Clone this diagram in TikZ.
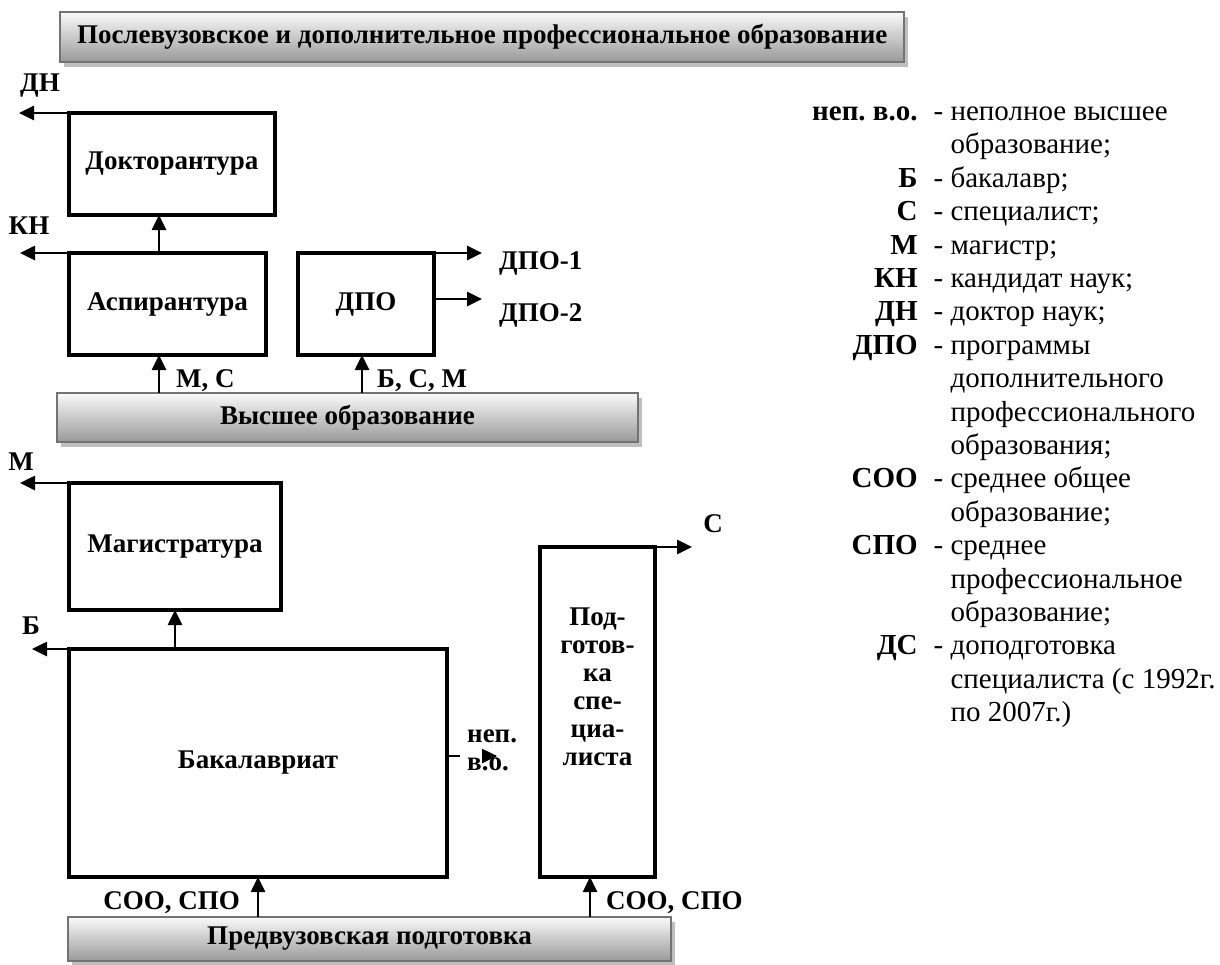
\documentclass[tikz,border=0pt]{standalone}
\usepackage{fontspec}
\setmainfont{Liberation Serif}
\usetikzlibrary{arrows.meta,shadows}
\frenchspacing

\newcommand{\lblfont}{\fontsize{27}{28}\selectfont\bfseries}
\newcommand{\legfont}{\fontsize{29}{33.4}\selectfont}
\newcommand{\legcont}{\hphantom{- }}

\begin{document}
\begin{tikzpicture}[x=1pt, y=-1pt, >={Triangle[length=15pt,width=14pt]}]

    % --- STYLES ---
    \tikzstyle{block} = [draw=black, line width=3.5pt, outer sep=0pt, align=center, font=\lblfont, inner sep=0pt]
    \tikzstyle{banner} = [draw=black!55, line width=2pt, outer sep=0pt, top color=black!2, bottom color=black!40, font=\lblfont, inner sep=0pt, drop shadow={shadow xshift=4pt, shadow yshift=-5pt, fill=black!25, opacity=1}]
    \tikzstyle{conn} = [line width=2.6pt, ->]
    \tikzstyle{tag} = [font=\lblfont, inner sep=0pt, align=left]

    % --- CANVAS ---
    \useasboundingbox (0,0) rectangle (1220,964);

    % --- POSTGRADUATE LEVEL ---
    \node[banner, anchor=north west, minimum height=50, inner xsep=17pt] (post) at (60,12) {Послевузовское и дополнительное профессиональное образование};
    \node[block, anchor=north west, minimum width=206, minimum height=102] (dokt) at (69,113) {Докторантура};
    \node[block, anchor=north west, minimum width=197, minimum height=102] (asp) at (69,253) {Аспирантура};
    \node[block, anchor=north west, minimum width=136, minimum height=102] (dpo) at (298,253) {ДПО};

    % --- HIGHER EDUCATION ---
    \node[banner, anchor=north west, minimum width=581, minimum height=49] (vo) at (57,393) {Высшее образование};
    \node[block, anchor=north west, minimum width=212, minimum height=127] (mag) at (69,483) {Магистратура};
    \node[block, anchor=north west, minimum width=378, minimum height=228] (bak) at (69,649) {Бакалавриат};
    \node[block, anchor=north west, minimum width=115, minimum height=330] (podg) at (540,547) {};
    \node[tag, align=center, anchor=north] (podgTxt) at (597.5,608) {Под-\\готов-\\ка\\спе-\\циа-\\листа};

    % --- PRE-UNIVERSITY ---
    \node[banner, anchor=north west, minimum width=603, minimum height=44] (pv) at (68,917) {Предвузовская подготовка};

    % --- FREE ENDS ---
    \coordinate (dnEnd) at (19,113);
    \coordinate (knEnd) at (20,253);
    \coordinate (dpo1End) at (482,253);
    \coordinate (dpo2End) at (482,299);
    \coordinate (mEnd) at (20,483);
    \coordinate (bEnd) at (32,649);
    \coordinate (nepEnd) at (497,756);
    \coordinate (sEnd) at (692,547);
    \coordinate (aspIn) at ([xshift=-8.5pt]asp.south);
    \coordinate (dpoIn) at ([xshift=-4pt]dpo.south);
    \coordinate (podgIn) at ([xshift=-7.5pt]podg.south);

    % --- CONNECTIONS ---
    % degrees out of the left side
    \draw[conn] (dokt.north west) -- (dnEnd);
    \node[tag] (dnLbl) at (40,86) {ДН};
    \draw[conn] (asp.north west) -- (knEnd);
    \node[tag] (knLbl) at (29,226) {КН};
    \draw[conn] (mag.north west) -- (mEnd);
    \node[tag] (mLbl) at (21,462) {М};
    \draw[conn] (bak.north west) -- (bEnd);
    \node[tag] (bLbl) at (31,626) {Б};

    % upwards between levels
    \draw[conn] (asp.north -| aspIn) -- (dokt.south -| aspIn);
    \draw[conn] (vo.north -| aspIn) -- (aspIn);
    \node[tag, anchor=west] (msLbl) at (176,381) {М, С};
    \draw[conn] (vo.north -| dpoIn) -- (dpoIn);
    \node[tag, anchor=west] (bsmLbl) at (377,381) {Б, С, М};
    \draw[conn] (bak.north -| mag.south) -- (mag.south);
    \draw[conn] (pv.north -| bak.south) -- (bak.south);
    \node[tag, anchor=east] (sooLbl) at (240,903) {СОО, СПО};
    \draw[conn] (pv.north -| podgIn) -- (podgIn);
    \node[tag, anchor=west] (sooLbl2) at (606,903) {СОО, СПО};

    % right side outputs
    \draw[conn] (dpo.north east) -- (dpo1End);
    \node[tag, anchor=west] (dpo1Lbl) at (499,263) {ДПО-1};
    \draw[conn] ([yshift=-46pt]dpo.north east) -- (dpo2End);
    \node[tag, anchor=west] (dpo2Lbl) at (499,315) {ДПО-2};
    \draw[conn] (podg.north east) -- (sEnd);
    \node[tag] (sLbl) at (713,524) {С};

    % incomplete higher education (label sits over the line, tip on top)
    \draw[conn] ([yshift=7pt]bak.east) -- (nepEnd);
    \node[tag, anchor=west, fill=white, inner xsep=7pt] (nepLbl) at (460,750) {неп.\\в.о.};
    \draw[conn] ([xshift=-1pt]nepEnd) -- (nepEnd);

    % --- LEGEND ---
    \node[anchor=north west, inner sep=0pt, font=\legfont] (legend) at (812,97) {%
      \begin{tabular}{@{}r@{\hspace{16pt}}l@{}}
        \textbf{неп. в.о.} & - неполное высшее\\
                     & \legcont образование;\\
        \textbf{Б}   & - бакалавр;\\
        \textbf{С}   & - специалист;\\
        \textbf{М}   & - магистр;\\
        \textbf{КН}  & - кандидат наук;\\
        \textbf{ДН}  & - доктор наук;\\
        \textbf{ДПО} & - программы\\
                     & \legcont дополнительного\\
                     & \legcont профессионального\\
                     & \legcont образования;\\
        \textbf{СОО} & - среднее общее\\
                     & \legcont образование;\\
        \textbf{СПО} & - среднее\\
                     & \legcont профессиональное\\
                     & \legcont образование;\\
        \textbf{ДС}  & - доподготовка\\
                     & \legcont специалиста (с 1992г.\\
                     & \legcont по 2007г.)
      \end{tabular}};

\end{tikzpicture}
\end{document}
